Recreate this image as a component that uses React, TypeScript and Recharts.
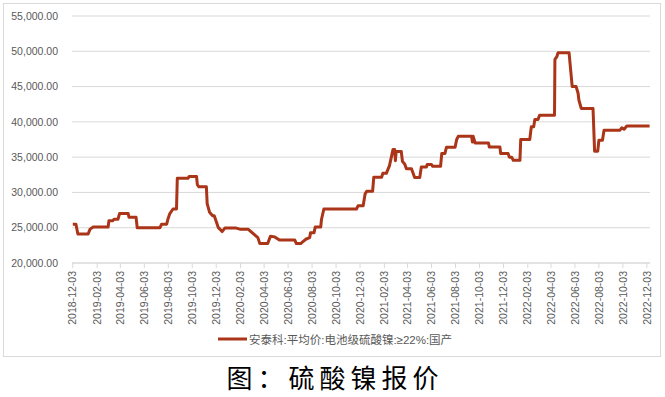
import React from 'react';
import { LineChart, Line, XAxis, YAxis, CartesianGrid, Legend } from 'recharts';

// 安泰科 电池级硫酸镍 均价（元/吨），按变动日期记录
const priceDates = [
  '2018-12-03', '2018-12-11', '2018-12-16', '2019-01-11', '2019-01-16', '2019-01-24',
  '2019-03-03', '2019-03-05', '2019-03-15', '2019-03-18', '2019-03-28', '2019-04-01',
  '2019-04-23', '2019-04-25', '2019-05-13', '2019-05-16', '2019-07-13', '2019-07-17',
  '2019-07-30', '2019-08-02', '2019-08-07', '2019-08-15', '2019-08-24', '2019-08-26',
  '2019-09-22', '2019-09-25', '2019-10-14', '2019-10-16', '2019-10-20', '2019-11-08',
  '2019-11-10', '2019-11-16', '2019-11-24', '2019-11-28', '2019-12-04', '2019-12-08',
  '2019-12-18', '2019-12-25', '2020-01-23', '2020-02-01', '2020-02-22', '2020-03-18',
  '2020-03-23', '2020-04-12', '2020-04-19', '2020-04-30', '2020-05-12', '2020-06-20',
  '2020-06-24', '2020-07-05', '2020-07-10', '2020-07-19', '2020-07-28', '2020-07-30',
  '2020-08-08', '2020-08-11', '2020-08-25', '2020-08-27', '2020-09-02', '2020-11-24',
  '2020-11-28', '2020-12-11', '2020-12-16', '2020-12-20', '2021-01-04', '2021-01-07',
  '2021-01-27', '2021-01-30', '2021-02-08', '2021-02-16', '2021-02-25', '2021-03-01',
  '2021-03-03', '2021-03-05', '2021-03-18', '2021-03-21', '2021-03-27', '2021-03-31',
  '2021-04-13', '2021-04-16', '2021-04-21', '2021-05-04', '2021-05-08', '2021-05-21',
  '2021-05-23', '2021-06-03', '2021-06-06', '2021-06-26', '2021-06-29', '2021-07-07',
  '2021-07-11', '2021-08-02', '2021-08-06', '2021-08-10', '2021-09-13', '2021-09-15',
  '2021-09-17', '2021-09-22', '2021-10-26', '2021-10-28', '2021-11-24', '2021-11-26',
  '2021-12-15', '2021-12-18', '2021-12-24', '2021-12-28', '2022-01-14', '2022-01-16',
  '2022-02-08', '2022-02-12', '2022-02-18', '2022-02-21', '2022-03-01', '2022-03-05',
  '2022-04-12', '2022-04-13', '2022-04-18', '2022-04-21', '2022-05-19', '2022-05-27',
  '2022-06-06', '2022-06-11', '2022-06-13', '2022-06-19', '2022-07-19', '2022-07-23',
  '2022-07-31', '2022-08-03', '2022-08-12', '2022-08-16', '2022-09-25', '2022-09-30',
  '2022-10-06', '2022-10-13', '2022-12-10',
];

const priceValues = [
  25500, 25500, 24100, 24100, 24800, 25100,
  25100, 26000, 26000, 26200, 26200, 27000,
  27000, 26500, 26500, 25000, 25000, 25500,
  25500, 26200, 27000, 27650, 27650, 32000,
  32000, 32250, 32250, 31100, 30800, 30800,
  28400, 27200, 26700, 26700, 25750, 25050,
  24450, 24950, 24950, 24800, 24800, 23600,
  22750, 22750, 23800, 23700, 23250, 23250,
  22750, 22750, 23000, 23400, 23600, 24300,
  24300, 25100, 25100, 26200, 27650, 27650,
  28100, 28100, 29800, 30150, 30150, 32150,
  32150, 32700, 32700, 33800, 36100, 36100,
  34500, 35800, 35800, 34400, 34000, 33350,
  33350, 32900, 32100, 32100, 33600, 33600,
  33950, 33950, 33700, 33700, 35500, 35500,
  36400, 36400, 37500, 37950, 37950, 37150,
  37950, 37000, 37000, 36450, 36450, 35500,
  35500, 35000, 35000, 34550, 34550, 37500,
  37500, 39300, 39300, 40350, 40350, 40950,
  40950, 48850, 49250, 49800, 49800, 45000,
  45000, 44050, 43100, 41900, 41900, 35850,
  35850, 37400, 37400, 38800, 38800, 39150,
  38950, 39400, 39400,
];

const xTickLabels = [
  '2018-12-03', '2019-02-03', '2019-04-03', '2019-06-03', '2019-08-03', '2019-10-03', '2019-12-03',
  '2020-02-03', '2020-04-03', '2020-06-03', '2020-08-03', '2020-10-03', '2020-12-03',
  '2021-02-03', '2021-04-03', '2021-06-03', '2021-08-03', '2021-10-03', '2021-12-03',
  '2022-02-03', '2022-04-03', '2022-06-03', '2022-08-03', '2022-10-03', '2022-12-03',
];

const yTicks = [20000, 25000, 30000, 35000, 40000, 45000, 50000, 55000];

const seriesName = '安泰科:平均价:电池级硫酸镍:≥22%:国产';
const caption = '图：硫酸镍报价';

const LINE_COLOR = '#AA3519';
const GRID_COLOR = '#d9d9d9';
const TEXT_COLOR = '#595959';
const FONT = '"Liberation Sans", Arial, sans-serif';

const data = priceDates.map((d, i) => ({ t: Date.parse(d), price: priceValues[i] }));
const xTicks = xTickLabels.map((d) => Date.parse(d));

const fmtDate = (v: number) => new Date(v).toISOString().slice(0, 10);
const fmtPrice = (v: number) =>
  v.toLocaleString('en-US', { minimumFractionDigits: 2, maximumFractionDigits: 2 });

// 竖排日期标签（从下往上读）
const DateTick = (props: any) => {
  const { x, y, payload } = props;
  return (
    <g transform={`translate(${x},${y})`}>
      <text
        transform="rotate(-90)"
        textAnchor="end"
        dy="0.35em"
        fontSize={10.5}
        fontFamily={FONT}
        fill={TEXT_COLOR}
      >
        {fmtDate(payload.value)}
      </text>
    </g>
  );
};

const LegendContent = () => (
  <div
    style={{
      display: 'flex',
      alignItems: 'center',
      height: 30,
      paddingTop: 6,
      paddingLeft: 218,
      boxSizing: 'border-box',
      fontFamily: '"Liberation Sans", "Noto Sans CJK SC", sans-serif',
      fontSize: 11.5,
      color: TEXT_COLOR,
    }}
  >
    <svg width={29} height={6} style={{ marginRight: 2 }}>
      <line x1={0} y1={3} x2={29} y2={3} stroke={LINE_COLOR} strokeWidth={3} />
    </svg>
    <span>{seriesName}</span>
  </div>
);

export default function App() {
  return (
    <div style={{ position: 'absolute', left: 0, top: 0, width: 665, height: 397, background: '#fff', overflow: 'hidden' }}>
      <div
        style={{
          position: 'absolute',
          left: 3,
          top: 3,
          width: 656,
          height: 352,
          border: `1px solid ${GRID_COLOR}`,
        }}
      />
      <div style={{ position: 'absolute', left: 0, top: 0 }}>
        <LineChart width={665} height={356} data={data} margin={{ top: 16, right: 15, bottom: 5, left: 0 }}>
          <CartesianGrid vertical={false} stroke={GRID_COLOR} />
          <XAxis
            dataKey="t"
            type="number"
            scale="time"
            domain={[Date.parse('2018-12-01'), Date.parse('2022-12-11')]}
            ticks={xTicks}
            interval={0}
            height={58}
            tick={<DateTick />}
            tickSize={5}
            tickMargin={3}
            axisLine={{ stroke: GRID_COLOR }}
            tickLine={{ stroke: GRID_COLOR }}
          />
          <YAxis
            type="number"
            domain={[20000, 55000]}
            ticks={yTicks}
            interval={0}
            width={72}
            axisLine={false}
            tickLine={false}
            tickMargin={8}
            tickFormatter={fmtPrice}
            tick={{ fontSize: 10.5, fontFamily: FONT, fill: TEXT_COLOR }}
          />
          <Legend verticalAlign="bottom" height={30} content={<LegendContent />} wrapperStyle={{ left: 0, width: 665 }} />
          <Line
            type="linear"
            dataKey="price"
            name={seriesName}
            stroke={LINE_COLOR}
            strokeWidth={3}
            strokeLinejoin="round"
            dot={false}
            activeDot={false}
            isAnimationActive={false}
          />
        </LineChart>
      </div>
      <div
        style={{
          position: 'absolute',
          left: 0,
          top: 361,
          width: 665,
          height: 32,
          textAlign: 'center',
          fontFamily: '"Noto Sans CJK SC", sans-serif',
          fontSize: 26,
          lineHeight: '32px',
          color: '#000',
          letterSpacing: 5,
          textIndent: 5,
        }}
      >
        {caption}
      </div>
    </div>
  );
}
